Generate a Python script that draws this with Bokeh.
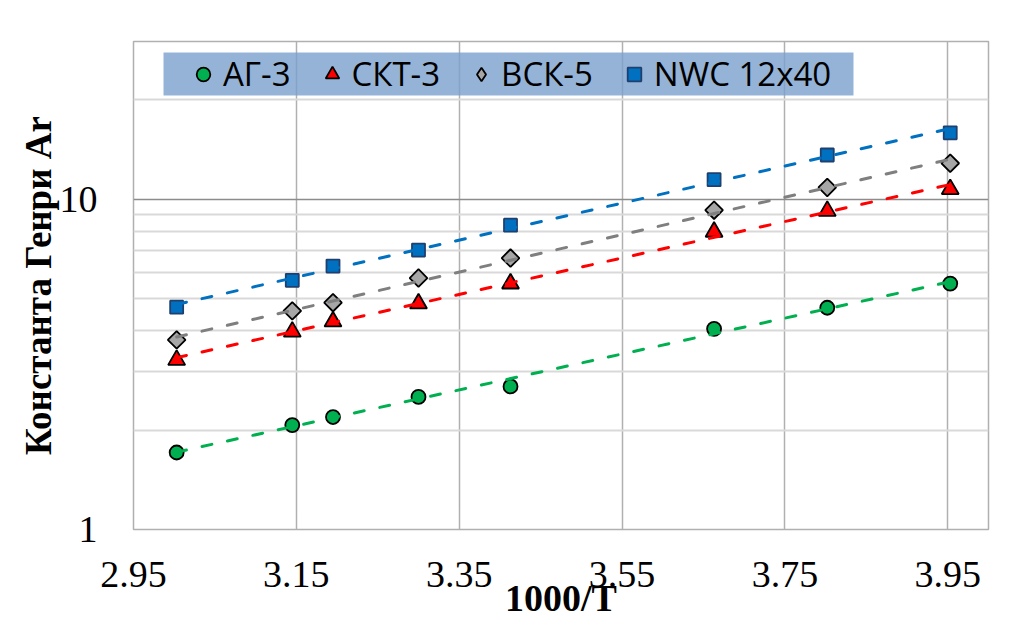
import numpy as np
from bokeh.plotting import figure
from bokeh.models import (Range1d, FixedTicker, PrintfTickFormatter, Legend,
                          LegendItem, BoxAnnotation)
from bokeh.embed import file_html
from bokeh.resources import INLINE

# ---- data ----
x_vals = [3.003, 3.145, 3.195, 3.300, 3.413, 3.663, 3.802, 3.953]   # 1000/T
ag3 = [1.71, 2.07, 2.19, 2.52, 2.71, 4.05, 4.69, 5.55]
skt3 = [3.26, 3.97, 4.26, 4.83, 5.55, 7.96, 9.21, 10.72]
bsk5 = [3.75, 4.59, 4.86, 5.77, 6.63, 9.26, 10.85, 12.84]
nwc = [4.71, 5.68, 6.27, 7.01, 8.34, 11.45, 13.60, 15.87]
series_names = ["АГ-3", "СКТ-3", "ВСК-5", "NWC 12x40"]
x_ticks = [2.95, 3.15, 3.35, 3.55, 3.75, 3.95]
y_major_ticks = [1, 10]
y_minor_ticks = [2, 3, 4, 5, 6, 7, 8, 9, 20, 30]
x_title = "1000/T"
y_title = "Константа Генри Ar"

p = figure(width=1016, height=621,
           x_range=Range1d(2.95, 4.0), y_range=Range1d(1, 30),
           y_axis_type="log", output_backend="svg", toolbar_location=None,
           min_border_left=133, min_border_right=28,
           min_border_top=41, min_border_bottom=92)
p.background_fill_color = "white"
p.border_fill_color = "white"
p.outline_line_color = "#b0b0b0"
p.outline_line_width = 1.5

# grids
p.xgrid.ticker = FixedTicker(ticks=x_ticks)
p.xgrid.grid_line_color = "#b0b0b0"
p.xgrid.grid_line_width = 1.5
p.ygrid.ticker = FixedTicker(ticks=y_major_ticks, minor_ticks=y_minor_ticks)
p.ygrid.grid_line_color = "#8c8c8c"
p.ygrid.grid_line_width = 1.5
p.ygrid.minor_grid_line_color = "#d9d9d9"
p.ygrid.minor_grid_line_width = 2

# axes
xa = p.xaxis[0]
xa.ticker = FixedTicker(ticks=x_ticks)
xa.formatter = PrintfTickFormatter(format="%.2f")
xa.axis_label = x_title
ya = p.yaxis[0]
ya.ticker = FixedTicker(ticks=y_major_ticks, minor_ticks=y_minor_ticks)
ya.major_label_overrides = {1: "1", 10: "10"}
ya.axis_label = y_title
for ax in (xa, ya):
    ax.axis_line_color = None
    ax.major_tick_line_color = None
    ax.minor_tick_line_color = None
    ax.major_label_text_font = "Liberation Serif"
    ax.major_label_text_font_size = "38px"
    ax.major_label_text_color = "black"
    ax.axis_label_text_font = "Liberation Serif"
    ax.axis_label_text_font_style = "bold"
    ax.axis_label_text_font_size = "37px"
    ax.axis_label_text_color = "black"
xa.axis_label_text_font_size = "38px"
xa.axis_label_text_line_height = 0.7
xa.major_label_standoff = 26
xa.axis_label_standoff = -13
ya.major_label_standoff = 30
ya.axis_label_standoff = -2

# legend background box
p.add_layout(BoxAnnotation(left=163, right=853, top=52, bottom=95,
                           left_units="canvas", right_units="canvas",
                           top_units="canvas", bottom_units="canvas",
                           fill_color="#7ba0cd", fill_alpha=0.8,
                           line_color=None, level="underlay"))

styles = [
    dict(data=ag3, marker="circle", size=14, fill="#00b050", line="black", angle=0.0, trend="#00b050"),
    dict(data=skt3, marker="triangle", size=17, fill="#ff0000", line="black", angle=0.0, trend="#ff0000"),
    dict(data=bsk5, marker="square", size=12.5, fill="#a6a6a6", line="black", angle=np.pi / 4, trend="#7f7f7f"),
    dict(data=nwc, marker="square", size=13, fill="#0070c0", line="#1f3f6e", angle=0.0, trend="#0070c0"),
]

items = []
xs = np.array(x_vals)
for name, st in zip(series_names, styles):
    ys = np.array(st["data"])
    leg_r = None
    if st["angle"] != 0.0:
        # legend glyphs are never rotated: a diamond glyph (hidden under the
        # rotated squares) provides the legend symbol
        leg_r = p.scatter(xs, ys, marker="diamond", size=8,
                          fill_color=st["fill"], line_color=st["line"], line_width=1.8)
    r = p.scatter(xs, ys, marker=st["marker"], size=st["size"], angle=st["angle"],
                  fill_color=st["fill"], line_color=st["line"], line_width=1.8)
    # exponential trend line (straight on log axis)
    b, a = np.polyfit(xs, np.log(ys), 1)
    xf = np.array([xs[0], xs[-1]])
    yf = np.exp(a + b * xf)
    p.line(xf, yf, line_color=st["trend"], line_width=3, line_dash="10 16",
           line_cap="round")
    items.append(LegendItem(label=name, renderers=[leg_r if leg_r is not None else r]))

legend = Legend(items=items, orientation="horizontal", location=(53, 433),
                padding=0, spacing=24, glyph_width=34, glyph_height=34,
                label_standoff=3, label_text_font="Open Sans",
                label_text_font_size="33px", label_text_color="black",
                background_fill_alpha=0, border_line_color=None, margin=0)
p.add_layout(legend)

open("out.html", "w").write(file_html(p, INLINE))
